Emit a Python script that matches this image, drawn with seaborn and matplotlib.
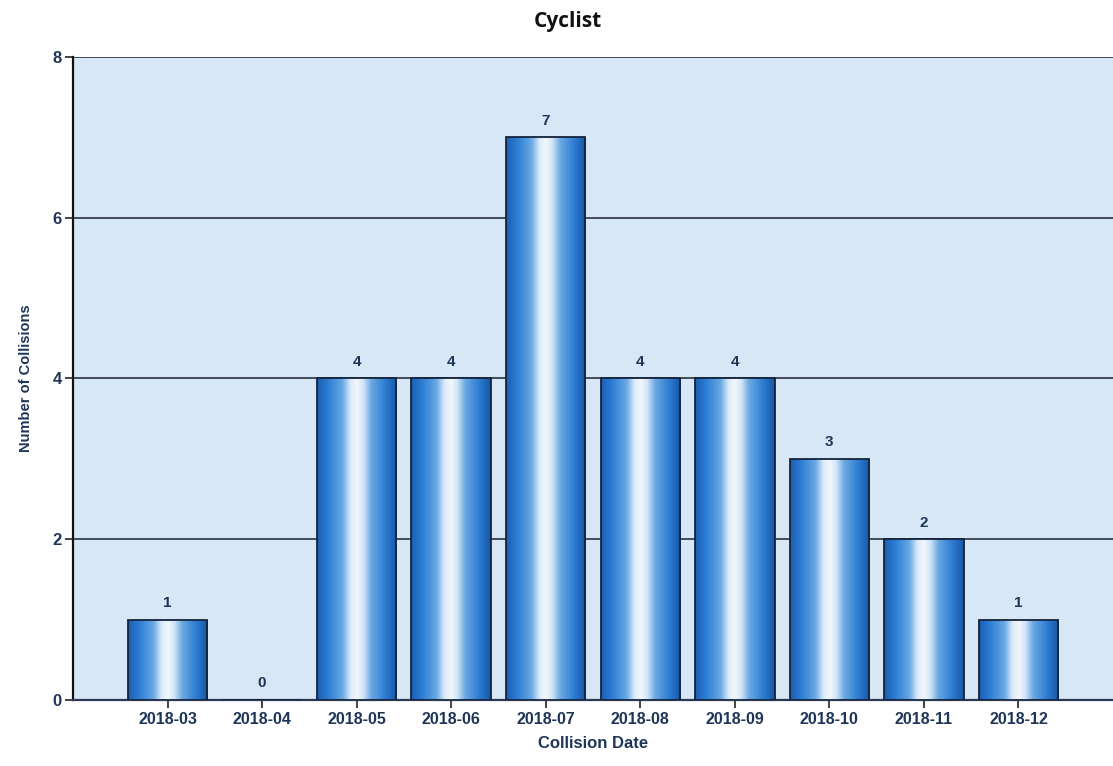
import numpy as np
import pandas as pd
import seaborn as sns
from matplotlib import pyplot as plt
from matplotlib.colors import LinearSegmentedColormap

months = ['2018-03', '2018-04', '2018-05', '2018-06', '2018-07',
          '2018-08', '2018-09', '2018-10', '2018-11', '2018-12']
collisions = [1, 0, 4, 4, 7, 4, 4, 3, 2, 1]

navy = '#1f3558'
bg = '#d8e7f6'
narrow = ['Liberation Sans Narrow', 'Liberation Sans', 'DejaVu Sans']

sns.set_theme(style='white')
plt.rcParams['font.family'] = ['Liberation Sans', 'DejaVu Sans']

data = pd.DataFrame({'Collision Date': months, 'Number of Collisions': collisions})

fig = plt.figure(figsize=(11.13, 7.66), dpi=100)
ax = fig.add_axes([0.0656, 0.0862, 0.9344, 0.8394])
ax.set_facecolor(bg)

sns.barplot(data=data, x='Collision Date', y='Number of Collisions',
            color='#2a74c4', width=0.84, edgecolor='#14233a', linewidth=1.3,
            ax=ax, zorder=3)

# cylinder-like shading on each bar
cyl = LinearSegmentedColormap.from_list(
    'cyl', [(0.0, '#1a5eb2'), (0.15, '#2f80d6'), (0.32, '#6aa9e4'),
            (0.42, '#dcebf9'), (0.5, '#f2f7fc'), (0.58, '#d2e5f7'),
            (0.68, '#6aa8e2'), (0.85, '#2e7ed3'), (1.0, '#1656a6')])
grad = np.linspace(0, 1, 256).reshape(1, -1)
for bar in ax.patches:
    x0, y0 = bar.get_x(), bar.get_y()
    w, h = bar.get_width(), bar.get_height()
    if h <= 0:
        continue
    im = ax.imshow(grad, cmap=cyl, aspect='auto', extent=[x0, x0 + w, y0, y0 + h],
                   zorder=3.5, interpolation='bicubic')
    im.set_clip_path(bar)
    bar.set_facecolor('none')
    bar.set_zorder(4)

for i, v in enumerate(collisions):
    ax.text(i, v + 0.12, str(v), ha='center', va='bottom', fontsize=11,
            fontweight='bold', color=navy, zorder=5)

ax.set_xlim(-1, 10)
ax.set_ylim(0, 8)
ax.set_yticks([0, 2, 4, 6, 8])
ax.grid(axis='y', color='#1a1f2e', linewidth=1.1, zorder=1)
ax.grid(axis='x', visible=False)

for s in ['top', 'right']:
    ax.spines[s].set_visible(False)
ax.spines['left'].set_color('#111111')
ax.spines['left'].set_linewidth(1.6)
ax.spines['bottom'].set_color('#2a3a55')
ax.spines['bottom'].set_linewidth(1.6)

ax.tick_params(axis='both', which='both', length=6, width=1.2, color='#222222',
               direction='out', bottom=True, left=True)
ax.tick_params(axis='x', labelsize=11.5, labelcolor=navy, pad=3)
ax.tick_params(axis='y', labelsize=12, labelcolor=navy, pad=2)
for lab in ax.get_xticklabels() + ax.get_yticklabels():
    lab.set_fontweight('bold')

ax.set_xlabel('Collision Date', fontsize=12, color=navy, labelpad=6,
              fontweight='bold', family=narrow)
ax.set_ylabel('Number of Collisions', fontsize=10.5, color=navy, labelpad=14,
              fontweight='bold', family=narrow)

fig.text(0.5105, 0.972, 'Cyclist', ha='center', va='center', fontsize=15,
         fontweight='bold', color='#111111', family=['Open Sans', 'DejaVu Sans'])

fig.savefig('out.png', dpi=100)
